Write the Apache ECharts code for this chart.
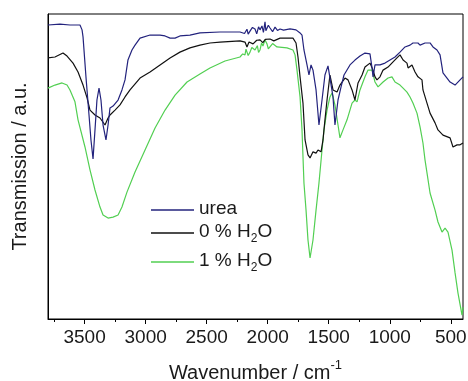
<!DOCTYPE html>
<html><head><meta charset="utf-8">
<script src="https://cdn.jsdelivr.net/npm/echarts@6/dist/echarts.min.js"></script>
<style>html,body{margin:0;padding:0;background:#fff}#c{width:468px;height:381px}</style>
</head><body><div id="c"></div>
<script>
// Wavenumber range and ticks
const xMin = 400, xMax = 3800;
const majorTicks = [3500, 3000, 2500, 2000, 1500, 1000, 500];
const minorTicks = [3750, 3250, 2750, 2250, 1750, 1250, 750];
const seriesNames = ['urea', '0 % H2O', '1 % H2O'];

// [wavenumber, transmission (a.u.)]
const ureaData = [
 [3800,96.4],[3702,96.7],[3620,96.4],[3538,96.4],[3521,94.8],[3513,92.5],[3489,79.4],[3464,66.9],[3448,58.7],[3431,52.5],
 [3415,62.0],[3399,71.8],[3382,75.7],[3366,71.8],[3349,63.6],[3325,58.7],[3308,63.6],[3292,69.2],[3267,69.8],[3251,70.2],
 [3226,71.8],[3194,75.1],[3169,78.4],[3145,84.9],[3112,88.2],[3087,89.8],[3046,92.1],[2964,93.1],[2882,93.1],[2841,92.8],
 [2800,92.1],[2759,92.1],[2719,92.8],[2637,93.1],[2555,93.8],[2391,94.1],[2227,94.1],[2190,93.6],[2170,95.0],[2160,93.4],
 [2145,94.4],[2125,95.6],[2104,95.1],[2090,93.5],[2075,95.8],[2063,94.8],[2047,96.1],[2035,94.0],[2022,97.4],[2015,94.5],
 [2006,95.1],[1995,96.3],[1981,95.4],[1960,94.2],[1940,95.7],[1920,94.6],[1899,95.1],[1870,94.7],[1817,95.1],[1768,94.8],
 [1735,93.8],[1719,93.1],[1703,88.2],[1678,83.3],[1662,80.0],[1645,83.3],[1629,81.6],[1604,75.1],[1580,63.6],[1555,71.8],
 [1531,80.0],[1506,83.0],[1490,83.3],[1465,72.8],[1449,63.6],[1424,71.8],[1399,76.1],[1375,80.0],[1326,83.3],[1285,84.9],
 [1244,86.2],[1203,87.2],[1162,86.9],[1145,82.3],[1137,79.4],[1121,83.3],[1080,83.3],[1039,83.9],[998,84.9],[957,85.9],
 [916,87.5],[875,89.2],[834,89.8],[810,90.5],[769,90.5],[752,89.8],[711,90.5],[670,90.5],[646,89.2],[613,88.2],
 [588,86.6],[564,80.7],[531,79.0],[506,77.7],[465,76.7],[424,78.4],[400,79.4]
];
const h2o0Data = [
 [3800,85.6],[3743,85.9],[3677,87.2],[3644,86.2],[3595,83.9],[3554,81.0],[3513,76.7],[3480,72.5],[3456,68.5],[3415,66.9],
 [3374,65.9],[3333,63.6],[3308,65.9],[3292,66.9],[3251,68.5],[3210,70.2],[3169,72.8],[3128,75.1],[3046,79.0],[2964,81.0],
 [2882,83.3],[2800,85.6],[2719,87.5],[2637,88.9],[2555,89.8],[2473,90.5],[2391,90.8],[2227,91.2],[2186,90.8],[2170,89.2],
 [2153,90.8],[2120,90.2],[2090,91.4],[2063,91.5],[2040,90.6],[2020,91.7],[1981,91.8],[1950,91.2],[1899,92.1],[1793,92.1],
 [1768,90.5],[1752,85.9],[1735,79.4],[1711,70.8],[1694,58.7],[1670,53.8],[1653,52.8],[1629,54.8],[1604,54.4],[1588,55.4],
 [1563,54.8],[1547,58.7],[1531,65.3],[1514,71.8],[1490,80.0],[1465,75.1],[1432,74.4],[1408,76.7],[1367,79.0],[1342,78.4],
 [1309,75.1],[1285,71.8],[1260,77.4],[1227,80.0],[1203,82.6],[1162,83.9],[1137,81.6],[1121,79.4],[1105,78.4],[1080,79.4],
 [1055,81.6],[1014,82.6],[973,84.3],[941,85.6],[916,86.6],[891,84.9],[859,83.9],[850,82.3],[818,83.3],[793,81.0],
 [769,79.4],[736,78.4],[728,75.1],[695,70.8],[670,67.5],[629,64.3],[605,62.0],[564,60.3],[506,59.4],[482,56.4],
 [449,57.1],[424,57.1],[400,57.7]
];
const h2o1Data = [
 [3800,75.7],[3743,76.7],[3685,77.4],[3644,76.7],[3620,75.1],[3579,71.2],[3554,65.3],[3497,56.4],[3456,48.9],[3415,42.3],
 [3374,36.7],[3349,34.1],[3308,33.1],[3267,33.4],[3226,34.1],[3194,36.7],[3153,41.6],[3087,48.2],[3005,55.4],[2923,62.6],
 [2841,68.5],[2759,73.4],[2661,77.7],[2555,80.3],[2473,82.3],[2350,84.6],[2227,85.9],[2205,86.9],[2186,86.6],[2178,88.5],
 [2170,88.2],[2160,86.4],[2145,87.5],[2130,89.0],[2104,88.2],[2085,89.6],[2075,87.4],[2063,88.2],[2050,90.5],[2039,89.5],
 [2022,91.5],[2006,90.2],[1995,88.6],[1981,89.2],[1960,90.3],[1924,89.2],[1842,88.9],[1793,88.2],[1776,86.6],[1760,81.6],
 [1735,72.8],[1719,62.0],[1703,44.6],[1686,35.7],[1670,25.9],[1653,20.0],[1629,25.9],[1604,35.7],[1580,44.6],[1555,55.4],
 [1539,62.0],[1514,68.5],[1490,72.8],[1473,74.1],[1449,70.2],[1424,63.6],[1408,59.4],[1383,62.0],[1350,65.3],[1309,70.8],
 [1285,71.8],[1268,71.2],[1244,75.1],[1203,79.4],[1178,81.6],[1145,81.6],[1121,77.7],[1096,76.1],[1080,76.1],[1055,77.7],
 [1014,79.0],[982,79.4],[957,77.7],[916,76.7],[891,75.7],[859,74.4],[834,72.8],[810,70.8],[777,67.5],[752,63.0],
 [728,57.7],[711,52.1],[695,47.9],[670,41.3],[629,35.7],[605,31.8],[572,28.5],[547,29.8],[523,28.5],[490,22.6],
 [465,15.1],[441,8.5],[408,1.3],[400,3.9]
];

const colors = ['#23237d', '#111111', '#52cf52'];
const FONT = 'Liberation Sans, Arial, sans-serif';
const allData = [ureaData, h2o0Data, h2o1Data];

function fmtName(n) {
  const m = n.match(/^(.*H)2(O)$/);
  if (m) return '{t|' + m[1] + '}{s|2}{t|' + m[2] + '}';
  return '{t|' + n + '}';
}
const legendRich = {
  t: {fontSize: 19, fontFamily: FONT, color: '#1a1a1a', lineHeight: 22, verticalAlign: 'top'},
  s: {fontSize: 12, fontFamily: FONT, color: '#1a1a1a', lineHeight: 12, padding: [11, 0, 0, 0], verticalAlign: 'top'}
};
const legendTops = [199, 222, 251];

const chart = echarts.init(document.getElementById('c'), null, {renderer: 'canvas'});
chart.setOption({
  animation: false,
  backgroundColor: '#fff',
  grid: {left: 48, right: 5, top: 14, bottom: 62, show: true, borderColor: '#000', borderWidth: 1, containLabel: false, outerBoundsMode: 'none'},
  legend: seriesNames.map((n, i) => ({
    data: [{name: n, icon: 'rect'}], left: 151, top: legendTops[i], orient: 'vertical',
    itemWidth: 43, itemHeight: 1.3, padding: 0, itemGap: 0,
    formatter: fmtName,
    textStyle: {rich: legendRich}
  })),
  xAxis: [{
    type: 'value', min: xMin, max: xMax, inverse: true, position: 'bottom',
    name: '{a|Wavenumber / cm}{b|-1}', nameLocation: 'middle', nameGap: 40,
    nameTextStyle: {rich: {
      a: {fontSize: 20, fontFamily: FONT, color: '#1a1a1a', lineHeight: 24, verticalAlign: 'bottom'},
      b: {fontSize: 13, fontFamily: FONT, color: '#1a1a1a', lineHeight: 13, verticalAlign: 'top'}
    }},
    axisLine: {show: true, onZero: false, lineStyle: {color: '#000', width: 1}},
    axisTick: {show: true, inside: false, length: 5, customValues: majorTicks, lineStyle: {color: '#000'}},
    axisLabel: {show: true, customValues: majorTicks, margin: 9, fontSize: 19, fontFamily: FONT, color: '#1a1a1a',
      formatter: v => String(v)},
    splitLine: {show: false}
  }, {
    type: 'value', min: xMin, max: xMax, inverse: true, position: 'bottom',
    axisLine: {show: false},
    axisTick: {show: true, inside: false, length: 3, customValues: minorTicks, lineStyle: {color: '#000'}},
    axisLabel: {show: false},
    splitLine: {show: false}
  }],
  yAxis: {
    type: 'value', min: 0, max: 100,
    name: 'Transmission / a.u.', nameLocation: 'middle', nameGap: 18,
    nameTextStyle: {fontSize: 20, fontFamily: FONT, color: '#1a1a1a'},
    axisLine: {show: true, lineStyle: {color: '#000', width: 1}},
    axisTick: {show: false}, axisLabel: {show: false}, splitLine: {show: false}
  },
  series: seriesNames.map((n, i) => ({
    name: n, type: 'line', xAxisIndex: 0, data: allData[i],
    symbol: 'none', showSymbol: false, smooth: false,
    lineStyle: {color: colors[i], width: 1.2}, itemStyle: {color: colors[i]},
    z: 3 - i
  }))
});
</script>
</body></html>
